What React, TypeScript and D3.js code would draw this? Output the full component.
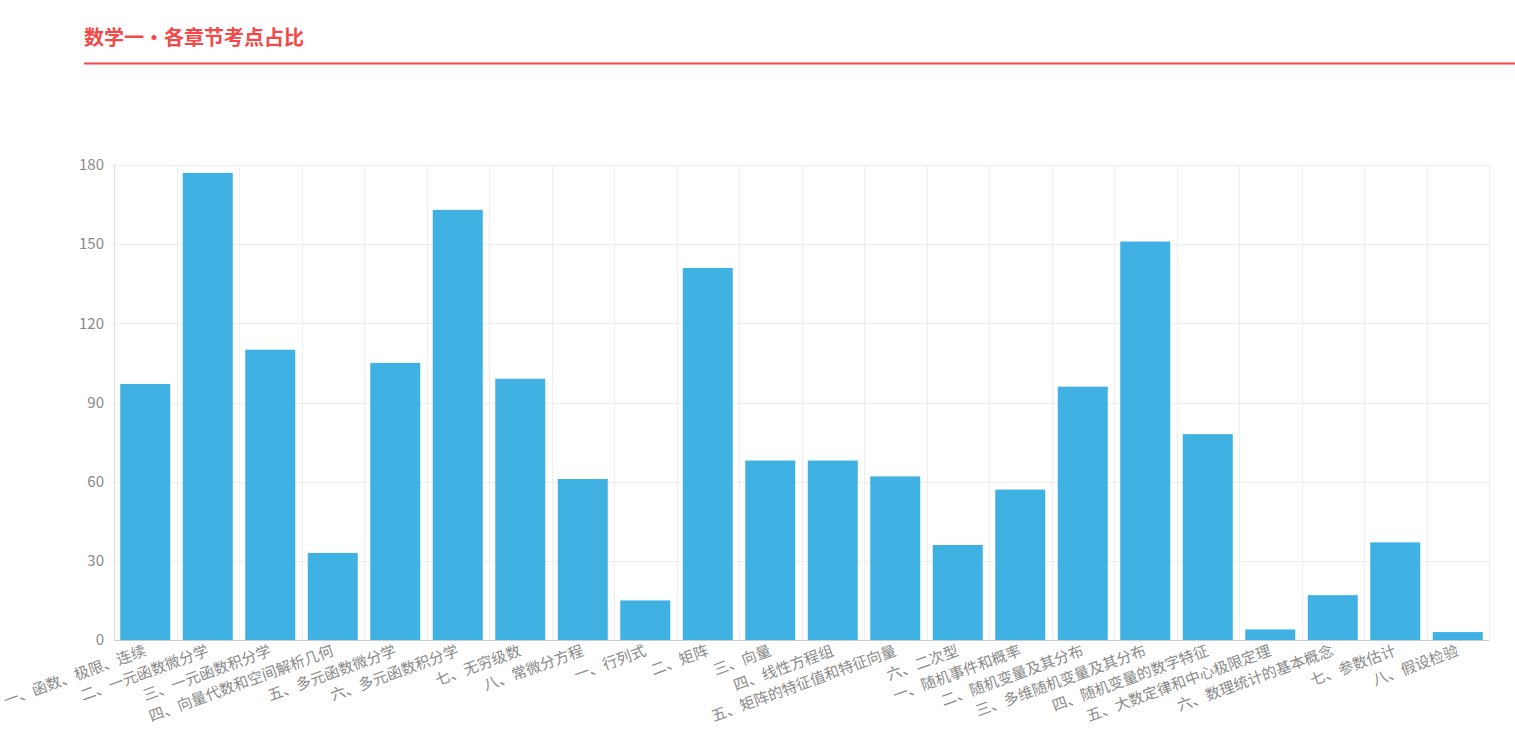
import React from "react";
import * as d3 from "d3";

const categories = [
  "一、函数、极限、连续",
  "二、一元函数微分学",
  "三、一元函数积分学",
  "四、向量代数和空间解析几何",
  "五、多元函数微分学",
  "六、多元函数积分学",
  "七、无穷级数",
  "八、常微分方程",
  "一、行列式",
  "二、矩阵",
  "三、向量",
  "四、线性方程组",
  "五、矩阵的特征值和特征向量",
  "六、二次型",
  "一、随机事件和概率",
  "二、随机变量及其分布",
  "三、多维随机变量及其分布",
  "四、随机变量的数字特征",
  "五、大数定律和中心极限定理",
  "六、数理统计的基本概念",
  "七、参数估计",
  "八、假设检验",
];
const values = [97, 177, 110, 33, 105, 163, 99, 61, 15, 141, 68, 68, 62, 36, 57, 96, 151, 78, 4, 17, 37, 3];
const yTicks = [0, 30, 60, 90, 120, 150, 180];
const title = "数学一・各章节考点占比";

const W = 1515;
const H = 730;
const left = 114;
const right = 1489;
const top = 165;
const bottom = 640;
const font = "'Noto Sans CJK SC', 'Noto Sans', sans-serif";

export default function App() {
  const x = d3.scaleBand<string>().domain(categories).range([left, right]).paddingInner(0).paddingOuter(0);
  const y = d3.scaleLinear().domain([0, 180]).range([bottom, top]);
  const bw = x.bandwidth();
  const barW = bw * 0.8;
  return (
    <svg width={W} height={H} style={{ position: "absolute", left: 0, top: 0, fontFamily: font }}>
      <text x={84} y={45} fill="#f54848" fontSize={20} fontWeight="bold" fontFamily={font}>
        {title}
      </text>
      <line x1={84} x2={W} y1={63.5} y2={63.5} stroke="#f54848" strokeWidth={2} />
      {yTicks.map((t) => (
        <g key={t}>
          {t > 0 && <line x1={left} x2={right} y1={Math.round(y(t)) + 0.5} y2={Math.round(y(t)) + 0.5} stroke="#eeeeee" />}
          <text x={left - 10} y={y(t)} dy="0.35em" textAnchor="end" fill="#8a8a8a" fontSize={15}>
            {t}
          </text>
        </g>
      ))}
      {categories.map((c, i) => (
        <line key={"v" + i} x1={Math.round(x(c)!) + 0.5} x2={Math.round(x(c)!) + 0.5} y1={top} y2={bottom} stroke="#eeeeee" />
      ))}
      <line x1={right + 0.5} x2={right + 0.5} y1={top} y2={bottom} stroke="#eeeeee" />
      <line x1={left + 0.5} x2={left + 0.5} y1={top} y2={bottom} stroke="#dddddd" />
      {categories.map((c, i) => (
        <rect key={"b" + i} x={x(c)! + (bw - barW) / 2} y={y(values[i])} width={barW} height={bottom - y(values[i])} fill="#3fb1e3" />
      ))}
      <line x1={left} x2={right} y1={bottom + 0.5} y2={bottom + 0.5} stroke="#cccccc" />
      {categories.map((c, i) => {
        const cx = x(c)! + bw / 2;
        return (
          <text
            key={"l" + i}
            transform={`translate(${cx},${bottom + 10}) rotate(-20)`}
            textAnchor="end"
            dy="0.35em"
            fill="#8a8a8a"
            fontSize={15}
          >
            {c}
          </text>
        );
      })}
    </svg>
  );
}
